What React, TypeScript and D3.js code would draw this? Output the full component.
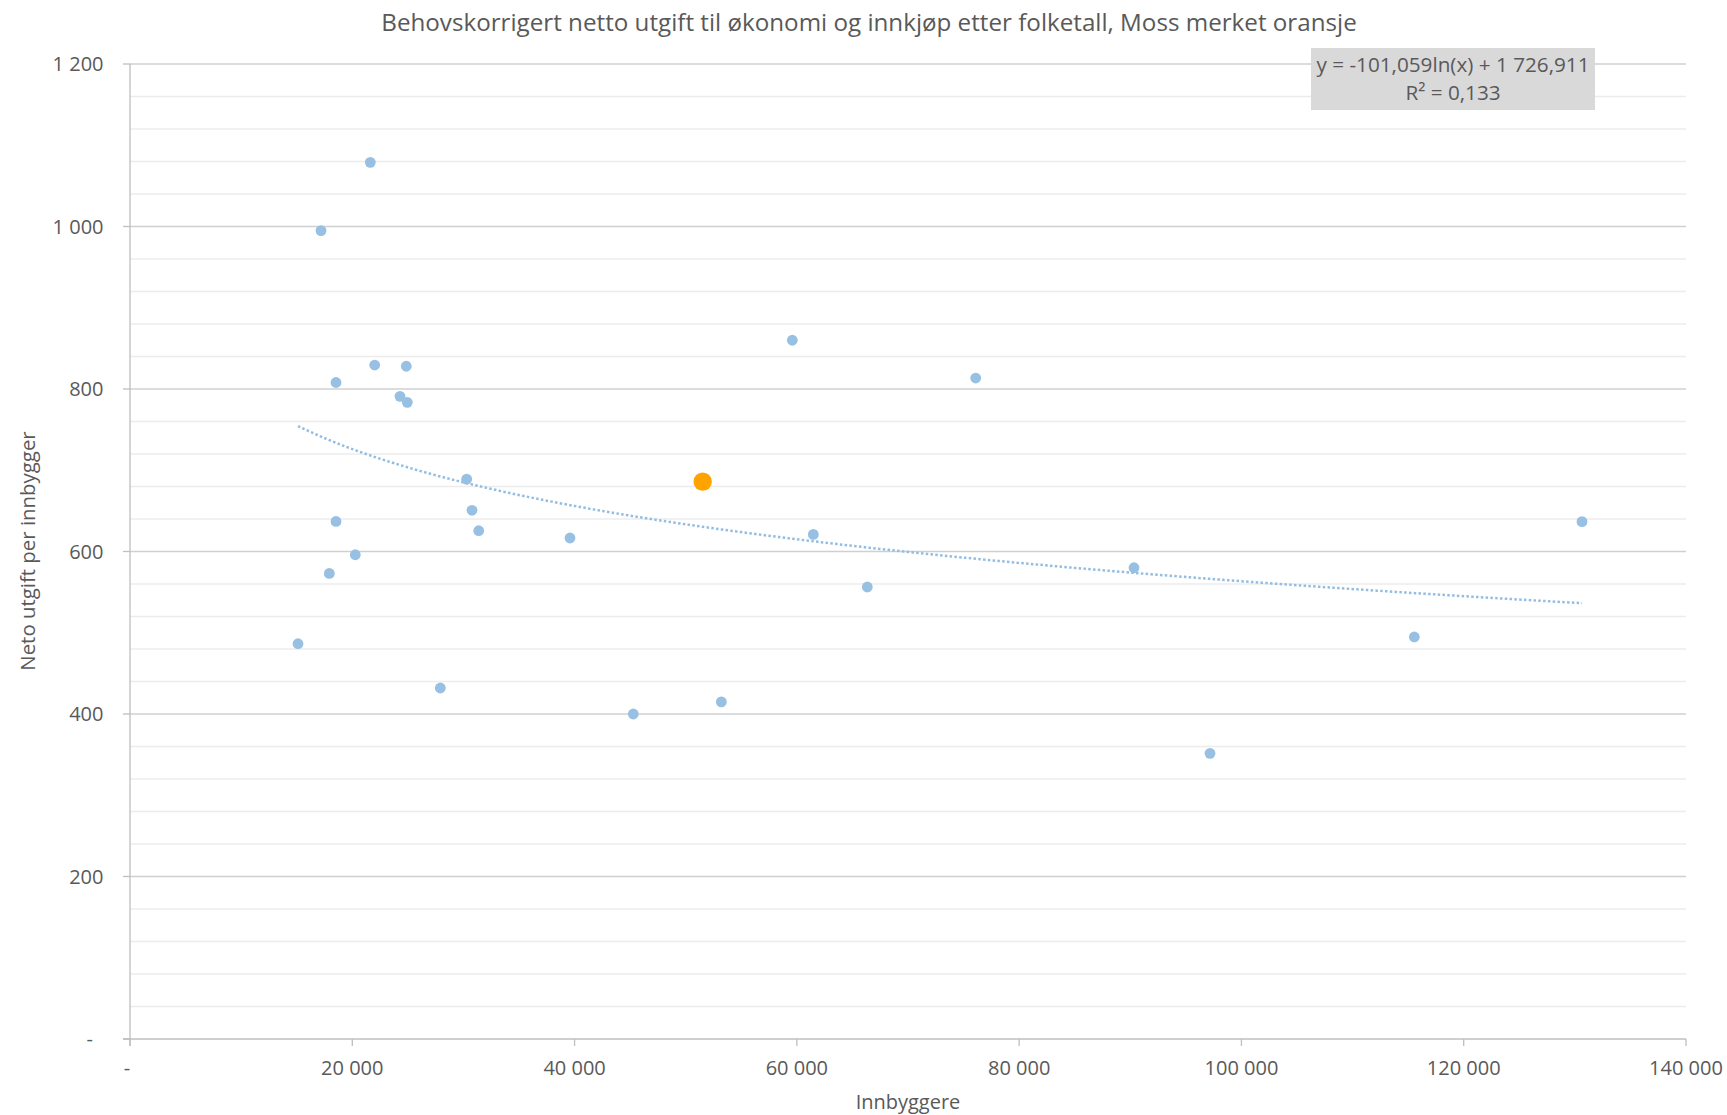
import React from "react";
import * as d3 from "d3";

const TITLE = "Behovskorrigert netto utgift til økonomi og innkjøp etter folketall, Moss merket oransje";
const X_TITLE = "Innbyggere";
const Y_TITLE = "Neto utgift per innbygger";

// Kommuner: innbyggere (x) og behovskorrigert netto utgift per innbygger (y)
const populations = [
  21620, 17185, 59590, 22016, 24860, 18535, 76090, 24293, 24950, 30295,
  30770, 31374, 39589, 61481, 18535, 130643, 20271, 17934, 90333, 66338,
  115555, 15116, 27919, 53206, 45285, 97172,
];
const expenses = [
  1079, 995, 860, 829.5, 828, 808, 813.5, 791, 783.6, 689,
  650.7, 625.6, 616.6, 621, 637, 636.7, 596, 573, 580, 556.3,
  494.8, 486.5, 432, 415, 400, 351.6,
];

// Moss (highlighted)
const mossPopulation = [51527];
const mossExpense = [686];

// Trend line label coefficients: y = a ln(x) + b
const trendA = [-101.059];
const trendB = [1726.911];
const trendLabel = ["y = -101,059ln(x) + 1 726,911", "R² = 0,133"];

const xTicks = [0, 20000, 40000, 60000, 80000, 100000, 120000, 140000];
const yTicks = [0, 200, 400, 600, 800, 1000, 1200];
const yMinorTicks = d3.range(0, 1201, 40);

const W = 1727;
const H = 1115;
const M = { left: 130, right: 1686, top: 64, bottom: 1039 };

const fmt = (v: number) => {
  if (v === 0) return "-";
  const s = String(v);
  return s.replace(/\B(?=(\d{3})+(?!\d))/g, "\u00a0");
};

export default function App() {
  const x = d3.scaleLinear().domain([0, 140000]).range([M.left, M.right]);
  const y = d3.scaleLinear().domain([0, 1200]).range([M.bottom, M.top]);

  const allX = [...populations, ...mossPopulation];
  const [xmin, xmax] = d3.extent(allX) as [number, number];
  const samples = d3.range(0, 201).map((i) => xmin + ((xmax - xmin) * i) / 200);
  const line = d3
    .line<number>()
    .x((d) => x(d))
    .y((d) => y(trendA[0] * Math.log(d) + trendB[0]));

  const textColor = "#595959";
  const font = "'Open Sans', 'DejaVu Sans', sans-serif";

  return (
    <svg
      width={W}
      height={H}
      style={{ position: "absolute", left: 0, top: 0, background: "#fff" }}
      fontFamily={font}
    >
      <rect x={0} y={0} width={W} height={H} fill="#fff" />
      {/* minor gridlines */}
      {yMinorTicks
        .filter((t) => t % 200 !== 0)
        .map((t) => (
          <line key={"m" + t} x1={M.left} x2={M.right} y1={y(t)} y2={y(t)} stroke="#ececec" strokeWidth={1.3} />
        ))}
      {/* major gridlines */}
      {yTicks
        .filter((t) => t !== 0)
        .map((t) => (
          <line key={"g" + t} x1={M.left} x2={M.right} y1={y(t)} y2={y(t)} stroke="#d0d0d0" strokeWidth={1.3} />
        ))}
      {/* axes */}
      <line x1={M.left} x2={M.left} y1={M.top} y2={M.bottom + 7} stroke="#bfbfbf" strokeWidth={1.3} />
      <line x1={M.left - 7} x2={M.right} y1={M.bottom} y2={M.bottom} stroke="#bfbfbf" strokeWidth={1.3} />
      {yTicks.map((t) => (
        <g key={"yt" + t}>
          <line x1={M.left - 7} x2={M.left} y1={y(t)} y2={y(t)} stroke="#bfbfbf" strokeWidth={1.3} />
          <text
            x={t === 0 ? 93 : 103.5}
            y={y(t)}
            dy="0.35em"
            textAnchor="end"
            fontSize={20}
            fill={textColor}
          >
            {fmt(t)}
          </text>
        </g>
      ))}
      {xTicks.map((t) => (
        <g key={"xt" + t}>
          <line x1={x(t)} x2={x(t)} y1={M.bottom} y2={M.bottom + 7} stroke="#bfbfbf" strokeWidth={1.3} />
          <text x={t === 0 ? x(t) - 3 : x(t)} y={1068} dy="0.35em" textAnchor="middle" fontSize={20} fill={textColor}>
            {fmt(t)}
          </text>
        </g>
      ))}

      {/* trend line */}
      <path
        d={line(samples) || ""}
        fill="none"
        stroke="#93bde2"
        strokeWidth={2.5}
        strokeDasharray="2.5 2.3"
      />

      {/* points */}
      {populations.map((p, i) => (
        <circle key={"p" + i} cx={x(p)} cy={y(expenses[i])} r={5.4} fill="#97c0e2" />
      ))}
      {mossPopulation.map((p, i) => (
        <circle key={"moss" + i} cx={x(p)} cy={y(mossExpense[i])} r={9.2} fill="#ffa300" />
      ))}

      {/* equation label */}
      <rect x={1311} y={48} width={284} height={62} fill="#d9d9d9" />
      <text x={1453} y={65} dy="0.35em" textAnchor="middle" fontSize={20.7} fill={textColor}>
        {trendLabel[0]}
      </text>
      <text x={1453} y={92.5} dy="0.35em" textAnchor="middle" fontSize={20.7} fill={textColor}>
        {trendLabel[1]}
      </text>

      {/* titles */}
      <text x={869} y={23} dy="0.35em" textAnchor="middle" fontSize={24.2} fill={textColor}>
        {TITLE}
      </text>
      <text x={908} y={1102} dy="0.35em" textAnchor="middle" fontSize={20} fill={textColor}>
        {X_TITLE}
      </text>
      <text
        transform={`translate(27.5,551) rotate(-90)`}
        dy="0.35em"
        textAnchor="middle"
        fontSize={20.4}
        fill={textColor}
      >
        {Y_TITLE}
      </text>
    </svg>
  );
}
